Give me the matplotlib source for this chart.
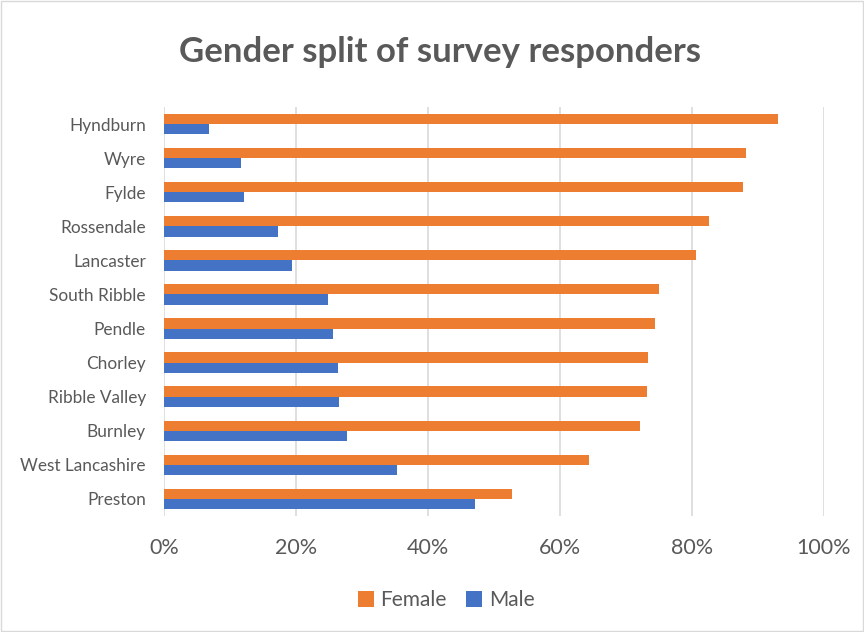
import matplotlib
matplotlib.use("Agg")
import matplotlib.pyplot as plt
import numpy as np
from matplotlib.patches import Rectangle
from matplotlib.ticker import FuncFormatter

# Survey responders by district, share of each gender (%)
districts = ["Hyndburn", "Wyre", "Fylde", "Rossendale", "Lancaster", "South Ribble",
             "Pendle", "Chorley", "Ribble Valley", "Burnley", "West Lancashire", "Preston"]
female = [93.1, 88.2, 87.8, 82.6, 80.7, 75.0, 74.4, 73.4, 73.3, 72.2, 64.5, 52.7]
male = [6.8, 11.7, 12.1, 17.3, 19.4, 24.9, 25.6, 26.4, 26.6, 27.7, 35.4, 47.1]
x_ticks = [0, 20, 40, 60, 80, 100]

plt.rcParams['font.family'] = ['Lato', 'DejaVu Sans']
text_grey = "#595959"
c_female = "#ED7D31"
c_male = "#4472C4"

fig = plt.figure(figsize=(8.64, 6.32), dpi=100)
ax = fig.add_axes([164 / 864, 1 - 516 / 632, (823.5 - 164) / 864, (516 - 107) / 632])

n = len(districts)
y = np.arange(n)[::-1]
h = 0.3
ax.barh(y + h / 2, female, height=h, color=c_female, label="Female", zorder=3)
ax.barh(y - h / 2, male, height=h, color=c_male, label="Male", zorder=3)

ax.set_xlim(0, 100)
ax.set_ylim(-0.5, n - 0.5)
ax.set_xticks(x_ticks)
ax.xaxis.set_major_formatter(FuncFormatter(lambda v, p: f"{v:.0f}%"))
ax.set_yticks(y)
ax.set_yticklabels(districts)
ax.tick_params(axis='x', length=0, labelsize=15.5, colors=text_grey, pad=16)
ax.tick_params(axis='y', length=0, labelsize=12.4, colors=text_grey, pad=13)
ax.grid(axis='x', color="#D9D9D9", linewidth=1.2, zorder=0)
for s in ax.spines.values():
    s.set_visible(False)

fig.text(440 / 864, 1 - 52 / 632, "Gender split of survey responders", ha='center', va='center',
         fontsize=25, fontweight='bold', color=text_grey)

fig.legend(loc='center', bbox_to_anchor=(446 / 864, 1 - 600 / 632), ncol=2, frameon=False,
           fontsize=15, labelcolor=text_grey, handlelength=0.8, handleheight=0.8,
           handletextpad=0.3, columnspacing=0.9)

fig.patches.append(Rectangle((0.001, 0.001), 0.998, 0.998, transform=fig.transFigure,
                             fill=False, edgecolor="#D9D9D9", linewidth=1))

fig.savefig("out.png", dpi=100)
